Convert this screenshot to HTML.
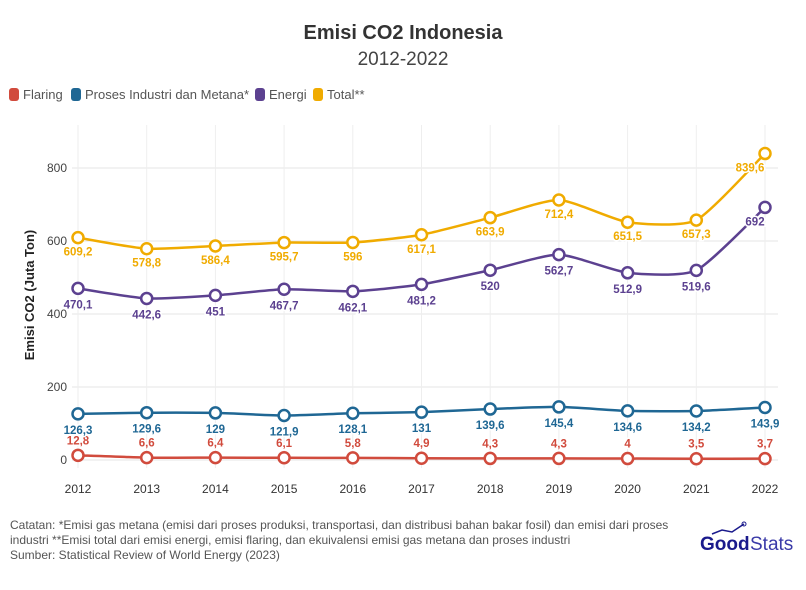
<!DOCTYPE html>
<html><head><meta charset="utf-8"><style>
body{margin:0;background:#fff;}
svg text{font-family:"Liberation Sans",sans-serif;}
</style></head><body>
<svg id="s" width="806" height="585" xmlns="http://www.w3.org/2000/svg">
<text x="403" y="39" text-anchor="middle" font-size="20" font-weight="bold" fill="#333">Emisi CO2 Indonesia</text>
<text x="403" y="65" text-anchor="middle" font-size="19" fill="#444">2012-2022</text>
<g font-size="13" fill="#555">
<rect x="9" y="88" width="10" height="13" rx="3" fill="#d14b3d"/><text x="23" y="99">Flaring</text>
<rect x="71" y="88" width="10" height="13" rx="3" fill="#1f6794"/><text x="85" y="99">Proses Industri dan Metana*</text>
<rect x="255" y="88" width="10" height="13" rx="3" fill="#5c4190"/><text x="269" y="99">Energi</text>
<rect x="313" y="88" width="10" height="13" rx="3" fill="#f0ab00"/><text x="327" y="99">Total**</text>
</g>
<g id="grid"></g>
<text transform="translate(34,295) rotate(-90)" text-anchor="middle" font-size="13" font-weight="bold" fill="#222">Emisi CO2 (Juta Ton)</text>
<g id="plot"></g>
<g font-size="12" fill="#555">
<text x="10" y="529">Catatan: *Emisi gas metana (emisi dari proses produksi, transportasi, dan distribusi bahan bakar fosil) dan emisi dari proses</text>
<text x="10" y="544">industri **Emisi total dari emisi energi, emisi flaring, dan ekuivalensi emisi gas metana dan proses industri</text>
<text x="10" y="559">Sumber: Statistical Review of World Energy (2023)</text>
</g>
<g transform="translate(700,550)">
<text x="0" y="0" font-size="19" font-weight="bold" fill="#1a1a8c">Good</text>
<text x="50" y="0" font-size="19" fill="#3a3aa8">Stats</text>
<polyline points="12,-16 22,-20 32,-18 44,-26" fill="none" stroke="#1a1a8c" stroke-width="1.5"/>
<circle cx="44" cy="-26" r="2" fill="none" stroke="#1a1a8c"/>
</g>
</svg>
<script>
const X=i=>78+i*68.7, Y=v=>460-v*0.365;
const ns="http://www.w3.org/2000/svg";
function el(p,t,a,txt){const e=document.createElementNS(ns,t);for(const k in a)e.setAttribute(k,a[k]);if(txt!=null)e.textContent=txt;document.getElementById(p).appendChild(e);}
for(let v=0;v<=800;v+=200){el("grid","line",{x1:72,x2:778,y1:Y(v),y2:Y(v),stroke:"#e6e6e6"});el("grid","text",{x:67,y:Y(v)+4,"text-anchor":"end","font-size":12,fill:"#444"},v);}
for(let i=0;i<11;i++){el("grid","line",{x1:X(i),x2:X(i),y1:125,y2:468,stroke:"#eeeeee"});el("grid","text",{x:X(i),y:493,"text-anchor":"middle","font-size":12,fill:"#333"},2012+i);}
const S=[
["#d14b3d",[12.8,6.6,6.4,6.1,5.8,4.9,4.3,4.3,4,3.5,3.7],-11],
["#1f6794",[126.3,129.6,129,121.9,128.1,131,139.6,145.4,134.6,134.2,143.9],20],
["#5c4190",[470.1,442.6,451,467.7,462.1,481.2,520,562.7,512.9,519.6,692],20],
["#f0ab00",[609.2,578.8,586.4,595.7,596,617.1,663.9,712.4,651.5,657.3,839.6],18]];
for(const [c,d,off] of S){
 const p=d.map((v,i)=>[X(i),Y(v)]);
 let s="M"+p[0];
 for(let i=0;i<p.length-1;i++){const p0=p[Math.max(0,i-1)],p1=p[i],p2=p[i+1],p3=p[Math.min(p.length-1,i+2)];const t=0.1;
 s+=` C${p1[0]+(p2[0]-p0[0])*t},${p1[1]+(p2[1]-p0[1])*t} ${p2[0]-(p3[0]-p1[0])*t},${p2[1]-(p3[1]-p1[1])*t} ${p2[0]},${p2[1]}`;}
 el("plot","path",{d:s,fill:"none",stroke:c,"stroke-width":2.5});
 p.forEach((q,i)=>{el("plot","circle",{cx:q[0],cy:q[1],r:5.5,fill:"#fff",stroke:c,"stroke-width":2.5});
 let tx=q[0], ty=q[1]+off;
 if(i==10 && c=="#f0ab00"){tx=q[0]-15;ty=q[1]+18;}
 if(i==10 && c=="#5c4190"){tx=q[0]-10;ty=q[1]+18;}
 el("plot","text",{x:tx,y:ty,"text-anchor":"middle","font-size":11.5,"font-weight":"bold",fill:c,stroke:"#fff","stroke-width":3,"paint-order":"stroke"},String(d[i]).replace(".",","));});
}
</script>
</body></html>
